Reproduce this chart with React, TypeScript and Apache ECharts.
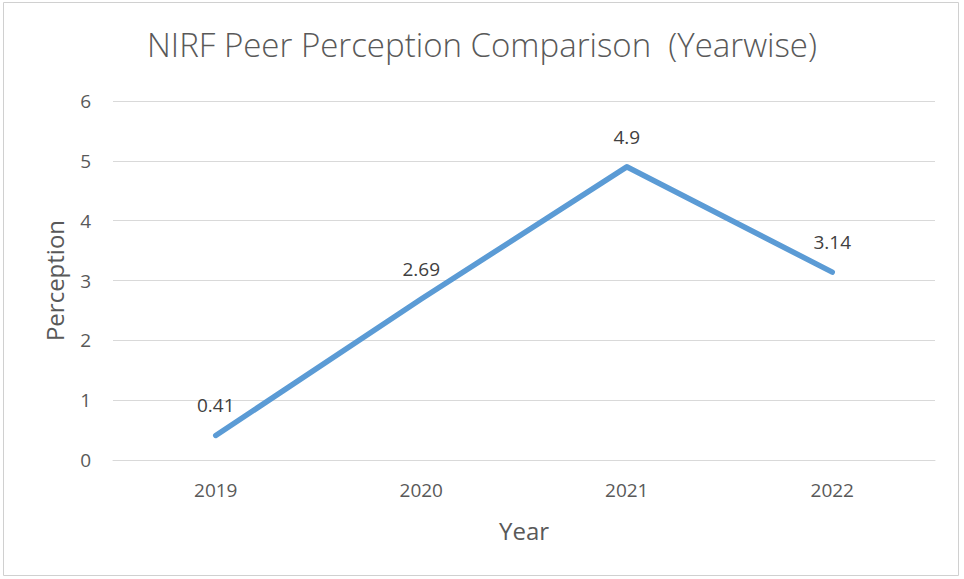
import React, { useEffect, useRef } from "react";
import * as echarts from "echarts";

const years = ["2019", "2020", "2021", "2022"];
const perception = [0.41, 2.69, 4.9, 3.14];
const titleText = "NIRF Peer Perception Comparison  (Yearwise)";
const yAxisName = "Perception";
const xAxisName = "Year";

export default function App() {
  const ref = useRef<HTMLDivElement>(null);
  useEffect(() => {
    if (!ref.current) return;
    const chart = echarts.init(ref.current, null, { renderer: "svg" });
    const font = "'Open Sans', 'Noto Sans', sans-serif";
    chart.setOption({
      animation: false,
      backgroundColor: "#ffffff",
      textStyle: { fontFamily: font },
      title: {
        text: titleText,
        left: "center",
        top: 23,
        textStyle: { fontFamily: font, fontSize: 33, fontWeight: 300, color: "#595959" },
      },
      graphic: [
        {
          type: "rect",
          shape: { x: 3.5, y: 2.5, width: 955, height: 573 },
          style: { fill: "none", stroke: "#d0d0d0", lineWidth: 1 },
          silent: true,
        },
      ],
      grid: { left: 113, right: 29, top: 101, bottom: 119, containLabel: false },
      xAxis: {
        type: "category",
        data: years,
        boundaryGap: true,
        axisLine: { show: true, lineStyle: { color: "#d9d9d9", width: 1 } },
        axisTick: { show: false },
        axisLabel: { color: "#595959", fontSize: 19, margin: 20, fontFamily: font },
        name: xAxisName,
        nameLocation: "middle",
        nameGap: 58,
        nameTextStyle: { color: "#595959", fontSize: 24, fontFamily: font },
      },
      yAxis: {
        type: "value",
        min: 0,
        max: 6,
        interval: 1,
        axisLine: { show: false },
        axisTick: { show: false },
        splitLine: { lineStyle: { color: "#d9d9d9", width: 1 } },
        axisLabel: { color: "#595959", fontSize: 19, margin: 22, fontFamily: font },
        name: yAxisName,
        nameLocation: "middle",
        nameGap: 47,
        nameTextStyle: { color: "#595959", fontSize: 24, fontFamily: font },
      },
      series: [
        {
          type: "line",
          data: perception,
          showSymbol: true,
          symbol: "circle",
          symbolSize: 1,
          lineStyle: { color: "#5B9BD5", width: 5.5, cap: "round", join: "round" },
          itemStyle: { color: "#5B9BD5" },
          label: {
            show: true,
            position: "top",
            distance: 20,
            color: "#404040",
            fontSize: 19,
            fontFamily: font,
          },
        },
      ],
    });
    return () => chart.dispose();
  }, []);
  return (
    <div
      ref={ref}
      style={{ position: "absolute", left: 0, top: 0, width: 964, height: 579 }}
    />
  );
}
